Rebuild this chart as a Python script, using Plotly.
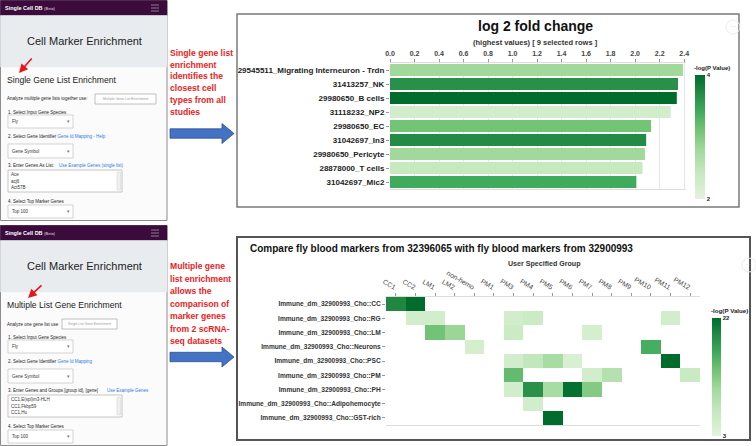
import plotly.graph_objects as go

W, H = 756, 446
FONT = "Liberation Sans, Arial, sans-serif"

# ---------------- data ----------------
bar_labels = ["29545511_Migrating Interneuron - Trdn", "31413257_NK", "29980650_B cells",
              "31118232_NP2", "29980650_EC", "31042697_In3", "29980650_Pericyte",
              "28878000_T cells", "31042697_Mic2"]
bar_l2fc = [2.39, 2.35, 2.34, 2.29, 2.13, 2.09, 2.08, 2.06, 2.01]
bar_nlogp = [2.8, 3.65, 4.0, 2.25, 3.1, 3.7, 2.8, 2.4, 3.4]
bar_ticks = [0.0, 0.2, 0.4, 0.6, 0.8, 1.0, 1.2, 1.4, 1.6, 1.8, 2.0, 2.2, 2.4]

heat_cols = ["CC1", "CC2", "LM1", "LM2", "non-hemo", "PM1", "PM3", "PM4", "PM5", "PM6",
             "PM7", "PM8", "PM9", "PM10", "PM11", "PM12"]
heat_rows = ["Immune_dm_32900993_Cho::CC", "Immune_dm_32900993_Cho::RG",
             "Immune_dm_32900993_Cho::LM", "Immune_dm_32900993_Cho::Neurons",
             "Immune_dm_32900993_Cho::PSC", "Immune_dm_32900993_Cho::PM",
             "Immune_dm_32900993_Cho::PH", "Immune_dm_32900993_Cho::Adipohemocyte",
             "Immune_dm_32900993_Cho::GST-rich"]
N = None
heat_vals = [
    [19.5, 22, N, N, N, N, N, N, N, N, N, N, N, N, N, N],
    [N, 5.3, 5.3, N, N, N, 5.3, 6.2, N, N, N, N, N, N, 5.3, N],
    [N, N, 13.6, 11, N, N, 6.2, N, N, N, 5, N, N, N, N, N],
    [N, N, N, N, 5, N, N, N, N, N, N, N, N, 16, N, N],
    [N, N, N, N, N, N, 5.3, 7.2, 9.8, 4.5, N, N, N, N, 22, N],
    [N, N, N, N, N, N, 14.4, N, N, N, 5.3, 8.7, N, N, N, 6.4],
    [N, N, N, N, N, N, 5.3, 18.6, 9.8, 21.6, 12.5, N, N, N, N, N],
    [N, N, N, N, N, N, N, 5.3, N, N, N, N, N, N, N, N],
    [N, N, N, N, N, N, N, N, 22, N, N, N, N, N, N, N],
]

red_top = ["Single gene list", "enrichment", "identifies the", "closest cell",
           "types from all", "studies"]
red_bottom = ["Multiple gene", "list enrichment", "allows the", "comparison of",
              "marker genes", "from 2 scRNA-", "seq datasets"]

GREENS = [[0, '#e3f4dd'], [0.2, '#c7e9c0'], [0.4, '#a1d99b'], [0.55, '#74c476'],
          [0.7, '#41ab5d'], [0.85, '#238b45'], [1, '#006d2c']]


def X(p):
    return p / W


def Y(p):
    return 1 - p / H


shapes = []
anns = []


def txt(x, y, s, size, color='#222', xa='left', ya='middle', bold=False, family=FONT):
    anns.append(dict(x=X(x), y=Y(y), xref='paper', yref='paper', text=s, showarrow=False,
                     xanchor=xa, yanchor=ya, borderpad=0, borderwidth=0,
                     font=dict(size=size, color=color, family=family,
                               weight='bold' if bold else 'normal')))


def rect(x0, y0, x1, y1, fill, line='rgba(0,0,0,0)', lw=1, layer='above'):
    shapes.append(dict(type='rect', xref='paper', yref='paper', x0=X(x0), x1=X(x1),
                       y0=Y(y1), y1=Y(y0), fillcolor=fill,
                       line=dict(color=line, width=lw), layer=layer))


def hline(x0, x1, y, color, lw=1):
    shapes.append(dict(type='line', xref='paper', yref='paper', x0=X(x0), x1=X(x1),
                       y0=Y(y), y1=Y(y), line=dict(color=color, width=lw)))


def path(pts, fill, line, lw=1):
    d = "M " + " L ".join(f"{X(a):.5f},{Y(b):.5f}" for a, b in pts) + " Z"
    shapes.append(dict(type='path', xref='paper', yref='paper', path=d, fillcolor=fill,
                       line=dict(color=line, width=lw)))


def red_arrow(tx, ty, fx, fy):
    anns.append(dict(x=X(tx), y=Y(ty), xref='paper', yref='paper', text='', showarrow=True,
                     ax=fx - tx, ay=fy - ty, axref='pixel', ayref='pixel',
                     arrowhead=2, arrowsize=1.1, arrowwidth=1.6, arrowcolor='#e8141c'))


SMALL = 4.5


def dropdown(x0, y0, x1, y1, label):
    rect(x0, y0, x1, y1, 'white', '#c8c8c8', 0.8)
    txt(x0 + 4, (y0 + y1) / 2, label, SMALL, '#333')
    txt(x1 - 5, (y0 + y1) / 2, '\u25be', 4.5, '#777', xa='center')


def panel(oy, title, analyze, button, bx0, bx1, id_link, list_label, link_x, link_txt, lines):
    rect(0.5, oy + 0.5, 167, oy + 220.5, '#fbfbfb', '#8c8c8c', 1)
    rect(0.5, oy + 0.5, 167, oy + 15.5, '#3b0b3c', '#3b0b3c', 0.5)
    txt(5, oy + 8, "Single Cell DB <span style='font-size:3.8px;color:#bbaabb'>(Beta)</span>",
        5.5, 'white', bold=True)
    for dy in (5, 8, 11):
        hline(151, 159, oy + dy, '#8f7a8f', 1)
    rect(0.5, oy + 15.5, 167, oy + 67, '#e9ecef', '#e9ecef', 0.5)
    txt(84, oy + 41, "Cell Marker Enrichment", 11, '#222', xa='center')
    txt(7, oy + 80, title, 8.6, '#222')
    txt(7, oy + 99, analyze, SMALL, '#222')
    rect(bx0, oy + 94, bx1, oy + 104, 'white', '#b0b0b0', 0.8)
    txt((bx0 + bx1) / 2, oy + 99, button, 3.4, '#999', xa='center')
    txt(8, oy + 112, "1. Select Input Gene Species", SMALL, '#222')
    dropdown(8, oy + 115, 73, oy + 128, "Fly")
    txt(8, oy + 136, "2. Select Gene Identifier " +
        f"<span style='color:#2a7be4'>{id_link}</span>", SMALL, '#222')
    dropdown(8, oy + 144, 73, oy + 158, "Gene Symbol")
    txt(8, oy + 165, list_label, SMALL, '#222')
    txt(link_x, oy + 165, link_txt, SMALL, '#2a7be4')
    rect(8, oy + 170, 122, oy + 192, 'white', '#b8b8b8', 0.8)
    rect(117, oy + 172, 120.5, oy + 190, '#f0f0f0', '#d0d0d0', 0.5)
    for i, ln in enumerate(lines):
        txt(11, oy + 174.5 + 6.6 * i, ln, SMALL, '#333')
    txt(8, oy + 201, "4. Select Top Marker Genes", SMALL, '#222')
    dropdown(8, oy + 205, 73, oy + 218, "Top 100")


# ---------------- left panels ----------------
panel(0, "Single Gene List Enrichment", "Analyze multiple gene lists together use:",
      "Multiple Gene List Enrichment", 95, 156, "Gene Id Mapping - Help",
      "3. Enter Genes As List:", 59, "Use Example Genes (single list)",
      ["Ace", "acj6", "Act57B"])
red_arrow(19, 73, 33, 57)

panel(225, "Multiple List Gene Enrichment", "Analyze one gene list use",
      "Single List Gene Enrichment", 62, 117, "Gene Id Mapping",
      "3. Enter Genes and Groups [group id], [gene]", 107, "Use Example Genes",
      ["CC1,E(spl)m3-HLH", "CC1,Fkbp59", "CC1,Hu"])
red_arrow(28, 298, 43, 284)

# ---------------- red captions + blue arrows ----------------
for i, s in enumerate(red_top):
    txt(170, 52.7 + 11.85 * i, s, 8.6, '#ec1c24', bold=True)
for i, s in enumerate(red_bottom):
    txt(170, 266 + 12.5 * i, s, 8.6, '#ec1c24', bold=True)


def blue_arrow(yc):
    path([(170, yc - 4.7), (222, yc - 4.7), (222, yc - 10), (234, yc), (222, yc + 10),
          (222, yc + 4.7), (170, yc + 4.7)], '#4472c4', '#2f528f', 0.8)


blue_arrow(133.5)
blue_arrow(357)

# ---------------- chart frames ----------------
rect(237, 14, 739, 207, 'white', '#7a7a7a', 1.5, layer='below')
rect(237, 237, 750, 440, 'white', '#555555', 2, layer='below')
for cx, cy in ((733, 27), (749, 265)):
    shapes.append(dict(type='circle', xref='paper', yref='paper', x0=X(cx - 7), x1=X(cx + 7),
                       y0=Y(cy + 7), y1=Y(cy - 7), line=dict(color='#ececec', width=1)))
    txt(cx, cy - 1, '\u00b7\u00b7\u00b7', 6, '#b8b8b8', xa='center')

# ---------------- bar chart ----------------
fig = go.Figure()
fig.add_trace(go.Bar(
    orientation='h', y=bar_labels, x=bar_l2fc, xaxis='x', yaxis='y',
    width=0.86,
    marker=dict(color=bar_nlogp, colorscale=GREENS, cmin=2, cmax=4, line=dict(width=0),
                colorbar=dict(x=X(695), xanchor='left', y=Y(75), yanchor='top',
                              len=(199 - 75) / H, lenmode='fraction', thickness=10,
                              outlinewidth=0, tickvals=[2, 4], ticks='', xpad=0, ypad=0,
                              tickfont=dict(size=6, family=FONT, color='#222', weight='bold'))),
    showlegend=False))
txt(535, 26, "log 2 fold change", 14, '#111', xa='center', bold=True)
txt(535, 42, "(highest values) [ 9 selected rows ]", 7.5, '#333', xa='center', bold=True)
txt(694, 68, "-log(P Value)", 6, '#222', bold=True)

# ---------------- heatmap ----------------
fig.add_trace(go.Heatmap(
    z=heat_vals, x=heat_cols, y=heat_rows, xaxis='x2', yaxis='y2',
    colorscale=GREENS, zmin=3, zmax=22, hoverongaps=False,
    colorbar=dict(x=X(712), xanchor='left', y=Y(318), yanchor='top',
                  len=(436 - 318) / H, lenmode='fraction', thickness=9,
                  outlinewidth=0, tickvals=[3, 22], ticks='', xpad=0, ypad=0,
                  tickfont=dict(size=6, family=FONT, color='#222', weight='bold'))))
txt(250, 249, "Compare fly blood markers from 32396065 with fly blood markers from 32900993",
    10, '#111', bold=True)
txt(544, 264, "User Specified Group", 7.1, '#333', xa='center', bold=True)
txt(711, 310, "-log(P Value)", 6.2, '#222', bold=True)

fig.update_layout(
    width=W, height=H, margin=dict(l=0, r=0, t=0, b=0), autosize=False,
    template='none', paper_bgcolor='white', plot_bgcolor='white',
    bargap=0.12,
    xaxis=dict(domain=[X(390), X(686)], range=[0, 2.415], side='top', anchor='y',
               tickvals=bar_ticks, tickformat='.1f', ticks='outside', ticklen=3,
               tickcolor='#999', showgrid=True, gridcolor='#e6e6e6', zeroline=False,
               showline=True, linecolor='#dddddd', mirror=True,
               tickfont=dict(size=7, family=FONT, color='#444', weight='bold')),
    yaxis=dict(domain=[Y(189), Y(63)], anchor='x', autorange='reversed', type='category',
               ticks='outside', ticklen=3, tickcolor='#999', showgrid=False,
               showline=False, zeroline=False,
               tickfont=dict(size=8, family=FONT, color='#222', weight='bold')),
    xaxis2=dict(domain=[X(386), X(700)], side='top', anchor='y2', type='category',
                tickangle=30, ticks='outside', ticklen=3, tickcolor='#999',
                showgrid=False, zeroline=False, showline=True, linecolor='#dddddd',
                mirror=True,
                tickfont=dict(size=6.8, family=FONT, color='#444')),
    yaxis2=dict(domain=[Y(425), Y(297)], anchor='x2', autorange='reversed', type='category',
                ticks='outside', ticklen=3, tickcolor='#999', showgrid=False,
                zeroline=False, showline=False,
                tickfont=dict(size=6.6, family=FONT, color='#333', weight='bold')),
    shapes=shapes, annotations=anns,
)

fig.write_html("out.html", config={'displayModeBar': False},
               post_script="document.body.style.margin='0';document.body.style.overflow='hidden';")
